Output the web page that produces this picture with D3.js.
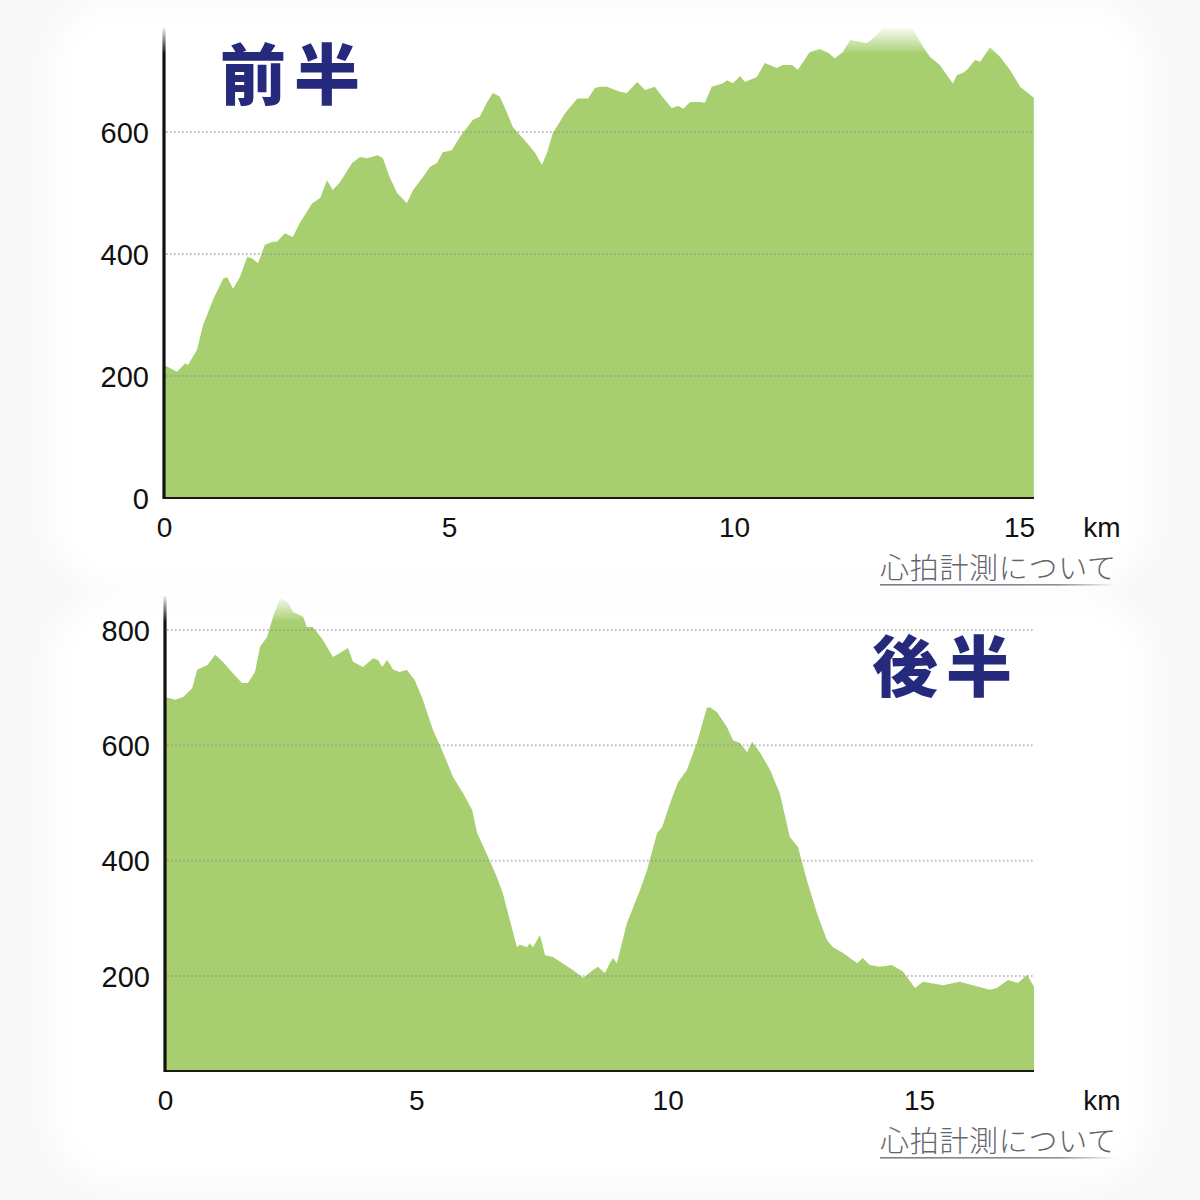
<!DOCTYPE html>
<html><head><meta charset="utf-8">
<script src="https://cdn.jsdelivr.net/npm/d3@7"></script>
<style>
html,body{margin:0;padding:0;background:#f6f6f6;}
svg{display:block;}
</style></head>
<body>
<svg id="chart" width="1200" height="1200"></svg>
<script>
// ---- Data (km, elevation m) ----
const firstHalfKm = [0,0.23,0.37,0.42,0.58,0.68,0.86,1.04,1.11,1.21,1.33,1.46,1.54,1.65,1.77,1.91,1.98,2.12,2.26,2.39,2.60,2.74,2.86,2.96,3.09,3.30,3.44,3.56,3.75,3.84,3.96,4.09,4.26,4.37,4.54,4.67,4.79,4.89,5.05,5.19,5.42,5.54,5.67,5.77,5.89,6.02,6.12,6.37,6.51,6.63,6.72,6.82,7.04,7.25,7.44,7.56,7.65,7.77,8.00,8.12,8.30,8.44,8.61,8.74,8.91,9.02,9.11,9.23,9.40,9.49,9.61,9.81,9.88,9.98,10.11,10.19,10.40,10.54,10.75,10.86,11.02,11.12,11.33,11.51,11.65,11.77,11.91,12.04,12.21,12.33,12.47,12.61,12.88,13.14,13.32,13.44,13.61,13.82,13.84,13.91,14.02,14.09,14.23,14.32,14.49,14.67,14.84,15.02,15.26];
const firstHalfElev = [218,207,221,218,243,282,325,360,362,343,362,395,393,385,415,420,420,434,428,452,483,492,521,505,518,549,559,557,562,557,526,500,483,505,526,543,549,567,570,592,620,625,649,664,658,631,608,582,566,546,566,598,631,655,655,672,674,674,666,664,682,669,674,658,639,643,638,649,649,648,674,680,685,680,692,682,690,713,705,710,710,702,731,736,730,721,731,751,748,746,756,770,782,768,739,723,710,682,680,693,697,702,718,715,739,723,702,674,656];

const secondHalfKm = [0,0.20,0.36,0.54,0.64,0.84,1.00,1.15,1.35,1.53,1.65,1.79,1.89,2.03,2.15,2.29,2.43,2.55,2.75,2.82,2.94,3.14,3.34,3.48,3.64,3.74,3.94,4.14,4.24,4.32,4.42,4.54,4.67,4.81,4.97,5.13,5.33,5.51,5.73,5.93,6.11,6.21,6.43,6.60,6.72,6.86,7.00,7.06,7.20,7.26,7.32,7.46,7.56,7.72,8.12,8.32,8.51,8.61,8.75,8.85,8.91,8.99,9.19,9.45,9.59,9.79,9.89,10.05,10.20,10.38,10.58,10.78,10.84,10.98,11.18,11.30,11.44,11.58,11.68,11.84,12.04,12.23,12.43,12.59,12.77,12.97,13.17,13.29,13.49,13.77,13.88,14.02,14.22,14.46,14.68,14.92,15.08,15.48,15.81,16.07,16.41,16.55,16.77,16.97,17.15,17.29];
const secondHalfElev = [684,679,684,699,731,739,757,745,725,708,708,727,771,788,823,855,850,831,823,805,805,783,753,760,769,745,736,751,748,736,748,731,727,731,713,679,627,592,545,517,488,448,406,372,344,297,250,254,250,257,250,271,236,233,210,197,210,216,205,222,231,222,292,349,384,448,458,500,535,557,604,665,666,658,632,609,604,588,606,587,557,517,441,424,366,309,262,250,240,222,231,219,216,219,208,179,190,184,190,184,176,179,193,188,202,181];

const firstYTicks = [0,200,400,600];
const secondYTicks = [200,400,600,800];
const xTicks = [0,5,10,15];
const unitLabel = "km";
const linkLabel = "心拍計測について";
const titles = ["前半","後半"];

// ---- Drawing ----
const svg = d3.select("#chart");
const defs = svg.append("defs");

const blur = defs.append("filter").attr("id","soft").attr("x","-10%").attr("y","-10%").attr("width","120%").attr("height","120%");
blur.append("feGaussianBlur").attr("stdDeviation",14);

const fade = defs.append("linearGradient").attr("id","fadeTop").attr("x1",0).attr("y1",0).attr("x2",0).attr("y2",1);
fade.append("stop").attr("offset","0%").attr("stop-color","#fff").attr("stop-opacity",1);
fade.append("stop").attr("offset","100%").attr("stop-color","#fff").attr("stop-opacity",0);

const ul = defs.append("linearGradient").attr("id","ulGrad").attr("x1",0).attr("y1",0).attr("x2",1).attr("y2",0);
ul.append("stop").attr("offset","0%").attr("stop-color","#7a7f8a");
ul.append("stop").attr("offset","75%").attr("stop-color","#8a8f99");
ul.append("stop").attr("offset","100%").attr("stop-color","#fff");

svg.append("rect").attr("x",0).attr("y",0).attr("width",1200).attr("height",1200).attr("fill","#f8f8f8");
[[50,0,1100,590],[50,595,1100,590]].forEach(([x,y,w,h])=>{
  svg.append("rect").attr("x",x).attr("y",y).attr("width",w).attr("height",h)
    .attr("rx",70).attr("fill","#fff").attr("filter","url(#soft)");
});

const fill = "#a7cf70";
const fontNum = "'Liberation Sans', Arial, Helvetica, sans-serif";
const fontJP = "'Noto Sans CJK JP', sans-serif";

function panel(cfg){
  const {km, elev, x, y, yTicks, top, right, base, id, title, titlePos, unitY, linkY} = cfg;
  const data = km.map((k,i)=>({k, e:elev[i]}));
  const g = svg.append("g");
  const left = x.range()[0];

  defs.append("clipPath").attr("id","clip"+id).append("rect")
    .attr("x",left).attr("y",top).attr("width",right-left).attr("height",base-top);

  const area = d3.area().x(d=>x(d.k)).y0(base).y1(d=>y(d.e)).curve(d3.curveLinear);
  g.append("path").datum(data).attr("d",area).attr("fill",fill).attr("clip-path",`url(#clip${id})`);

  g.selectAll(".grid").data(yTicks.filter(t=>y(t) < base-2)).join("line")
    .attr("x1",left+2).attr("x2",right).attr("y1",d=>y(d)).attr("y2",d=>y(d))
    .attr("stroke","#8a8a8a").attr("stroke-opacity",0.55).attr("stroke-width",2)
    .attr("stroke-dasharray","1.6,2.4");

  g.append("line").attr("x1",left).attr("x2",right).attr("y1",base).attr("y2",base)
    .attr("stroke","#1a1a1a").attr("stroke-width",2.2);
  g.append("line").attr("x1",left).attr("x2",left).attr("y1",top).attr("y2",base+1)
    .attr("stroke","#111").attr("stroke-width",3.2);

  svg.append("rect").attr("x",left-3).attr("y",top-2).attr("width",right-left+6).attr("height",28)
    .attr("fill","url(#fadeTop)");

  const ya = d3.axisLeft(y).tickValues(yTicks).tickSize(0).tickPadding(0);
  const yg = svg.append("g").attr("transform",`translate(${left-15},0)`).call(ya);
  yg.select(".domain").remove();
  yg.selectAll("text").attr("font-family",fontNum).attr("font-size",29).attr("fill","#111").attr("dy","0.35em");

  const xa = d3.axisBottom(x).tickValues(xTicks).tickFormat(d3.format("d")).tickSize(0).tickPadding(0);
  const xg = svg.append("g").attr("transform",`translate(0,${unitY})`).call(xa);
  xg.select(".domain").remove();
  xg.selectAll("text").attr("font-family",fontNum).attr("font-size",28).attr("fill","#111").attr("dy","0.35em");

  svg.append("text").attr("x",1102).attr("y",unitY).attr("dy","0.35em").attr("text-anchor","middle")
    .attr("font-family",fontNum).attr("font-size",28).attr("fill","#111").text(unitLabel);

  svg.append("text").attr("x",880).attr("y",linkY).attr("font-family",fontJP).attr("font-weight",300)
    .attr("font-size",29).attr("fill","#62656c").attr("textLength",236).text(linkLabel);
  svg.append("rect").attr("x",880).attr("y",linkY+5).attr("width",238).attr("height",1.6).attr("fill","url(#ulGrad)");

  svg.append("text").attr("x",titlePos[0]).attr("y",titlePos[1]).attr("font-family",fontJP)
    .attr("font-weight",900).attr("font-size",66).attr("fill","#262a7c")
    .attr("textLength",140).attr("lengthAdjust","spacing").text(title);
}

panel({
  id:1, km:firstHalfKm, elev:firstHalfElev,
  x: d3.scaleLinear().domain([0,15]).range([164,1019]),
  y: d3.scaleLinear().domain([0,600]).range([498,132]),
  yTicks:firstYTicks, top:28, right:1034, base:498,
  title:titles[0], titlePos:[220,99], unitY:527, linkY:579
});

panel({
  id:2, km:secondHalfKm, elev:secondHalfElev,
  x: d3.scaleLinear().domain([0,15]).range([165,919]),
  y: d3.scaleLinear().domain([200,800]).range([976,630]),
  yTicks:secondYTicks, top:596, right:1034, base:1071,
  title:titles[1], titlePos:[872,691], unitY:1100, linkY:1152
});
</script>
</body></html>
